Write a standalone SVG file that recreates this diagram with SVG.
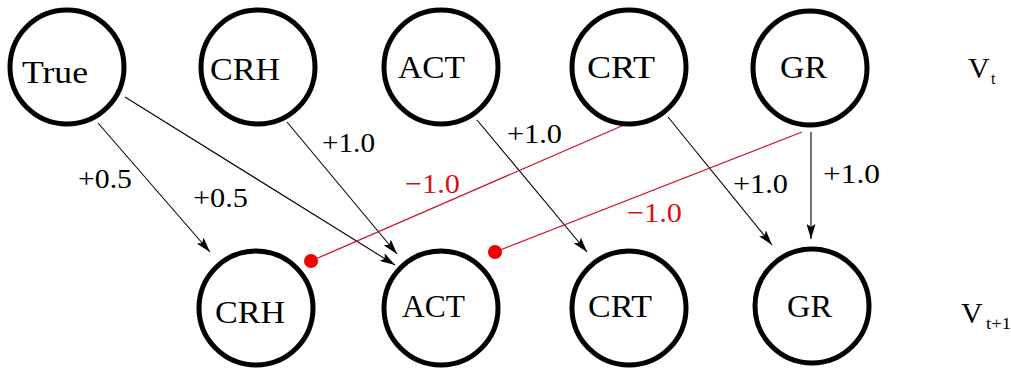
<svg xmlns="http://www.w3.org/2000/svg" width="1011" height="370" viewBox="0 0 1011 370">
<style>
.node{fill:#fff;stroke:#000;stroke-width:5}
.nl{font-family:'Liberation Serif','Times New Roman','DejaVu Serif',serif;font-size:32px;fill:#000}
.el{font-family:'Liberation Serif','Times New Roman','DejaVu Serif',serif;font-size:28px;fill:#000}
.red{fill:#dd1111}
.e{stroke:#000;stroke-width:1.1;fill:none;marker-end:url(#arr)}
.r{stroke:#d4102e;stroke-width:1.3;fill:none}
.dot{fill:#ee0000}
.v{font-family:'Liberation Serif','Times New Roman','DejaVu Serif',serif;fill:#000}
</style>
<defs>
<marker id="arr" markerUnits="userSpaceOnUse" markerWidth="16" markerHeight="9" refX="15" refY="4.5" orient="auto">
<path d="M0,0 L15,4.5 L0,9 L3,4.5 z" fill="#000"/>
</marker>
</defs>
<rect width="1011" height="370" fill="#fff"/>
<g id="connectors">
<line class="e" x1="98" y1="123" x2="210" y2="252"/>
<line class="e" x1="125" y1="97" x2="395" y2="265"/>
<line class="e" x1="287" y1="122" x2="397" y2="254"/>
<line class="e" x1="477" y1="120" x2="587" y2="252"/>
<line class="e" x1="668" y1="117" x2="772" y2="245"/>
<line class="e" x1="811" y1="132" x2="811" y2="239"/>
<line class="r" x1="624" y1="125" x2="311" y2="261"/>
<circle class="dot" cx="311" cy="261" r="7"/>
<line class="r" x1="802" y1="132" x2="495" y2="252"/>
<circle class="dot" cx="495" cy="252" r="7"/>
<text class="el" x="78" y="188" textLength="54" lengthAdjust="spacingAndGlyphs">+0.5</text>
<text class="el" x="193" y="207" textLength="55" lengthAdjust="spacingAndGlyphs">+0.5</text>
<text class="el" x="322" y="152" textLength="53" lengthAdjust="spacingAndGlyphs">+1.0</text>
<text class="el" x="507" y="143" textLength="55" lengthAdjust="spacingAndGlyphs">+1.0</text>
<text class="el red" x="405" y="193" textLength="55" lengthAdjust="spacingAndGlyphs">−1.0</text>
<text class="el red" x="627" y="222" textLength="55" lengthAdjust="spacingAndGlyphs">−1.0</text>
<text class="el" x="733" y="193" textLength="55" lengthAdjust="spacingAndGlyphs">+1.0</text>
<text class="el" x="823" y="183" textLength="57" lengthAdjust="spacingAndGlyphs">+1.0</text>
</g>
<g id="true_t"><circle class="node" cx="67" cy="67" r="57"/><text class="nl" x="22" y="83" textLength="66" lengthAdjust="spacingAndGlyphs">True</text></g>
<g id="crh_t"><circle class="node" cx="258" cy="67" r="57"/><text class="nl" x="210" y="80" textLength="70" lengthAdjust="spacingAndGlyphs">CRH</text></g>
<g id="act_t"><circle class="node" cx="441" cy="67" r="57"/><text class="nl" x="398" y="78" textLength="67" lengthAdjust="spacingAndGlyphs">ACT</text></g>
<g id="crt_t"><circle class="node" cx="629" cy="67" r="57"/><text class="nl" x="587" y="78" textLength="68" lengthAdjust="spacingAndGlyphs">CRT</text></g>
<g id="gr_t"><circle class="node" cx="810" cy="68" r="57"/><text class="nl" x="780" y="78" textLength="47" lengthAdjust="spacingAndGlyphs">GR</text></g>
<g id="crh_t1"><circle class="node" cx="256" cy="308" r="57"/><text class="nl" x="215" y="323" textLength="70" lengthAdjust="spacingAndGlyphs">CRH</text></g>
<g id="act_t1"><circle class="node" cx="441" cy="308" r="57"/><text class="nl" x="402" y="317" textLength="63" lengthAdjust="spacingAndGlyphs">ACT</text></g>
<g id="crt_t1"><circle class="node" cx="629" cy="308" r="57"/><text class="nl" x="588" y="317" textLength="64" lengthAdjust="spacingAndGlyphs">CRT</text></g>
<g id="gr_t1"><circle class="node" cx="812" cy="306" r="57"/><text class="nl" x="787" y="317" textLength="45" lengthAdjust="spacingAndGlyphs">GR</text></g>
<g id="labels">
<text class="v" x="968" y="78" font-size="30">V</text>
<text class="v" x="991" y="84" font-size="16">t</text>
<text class="v" x="961" y="323" font-size="30">V</text>
<text class="v" x="986" y="329" font-size="16" textLength="25" lengthAdjust="spacingAndGlyphs">t+1</text>
</g>
</svg>
